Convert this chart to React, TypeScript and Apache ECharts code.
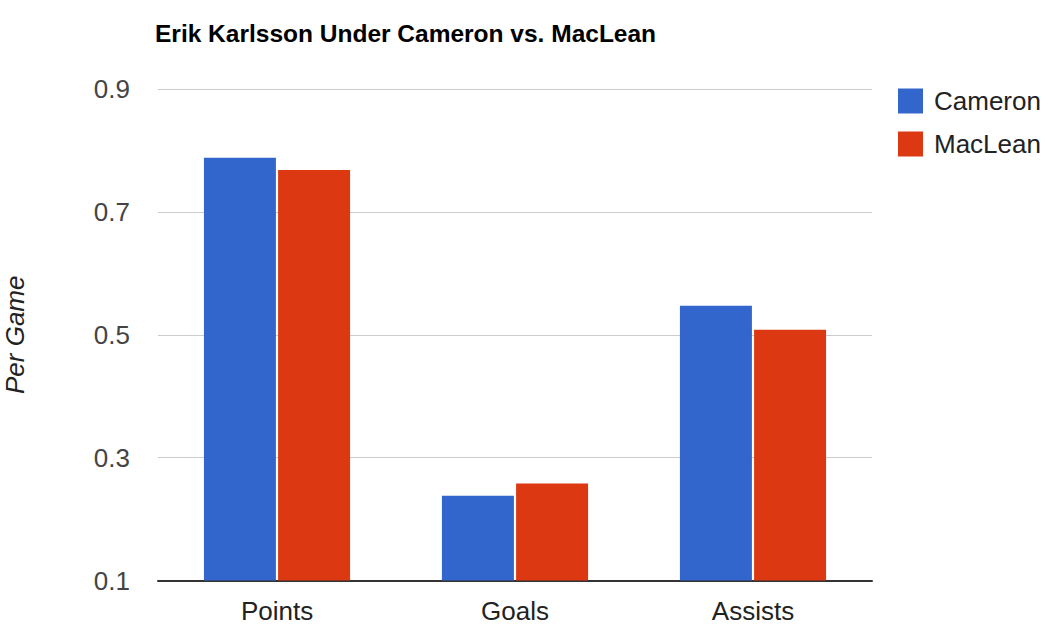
import { useEffect, useRef } from "react";
import * as echarts from "echarts";

const categories = ["Points", "Goals", "Assists"];
const cameron = [0.788, 0.238, 0.547];
const maclean = [0.768, 0.258, 0.508];
const seriesNames = ["Cameron", "MacLean"];
const colors = ["#3366cc", "#dc3912"];

const FONT = "'Liberation Sans', Arial, sans-serif";

export default function App() {
  const chartRef = useRef<HTMLDivElement>(null);

  useEffect(() => {
    document.body.style.margin = "0";
    if (!chartRef.current) return;
    const chart = echarts.init(chartRef.current, undefined, { renderer: "svg" });
    chart.setOption({
      animation: false,
      textStyle: { fontFamily: FONT },
      title: {
        text: "Erik Karlsson Under Cameron vs. MacLean",
        left: 150,
        top: 16,
        textStyle: { fontFamily: FONT, fontSize: 24.5, fontWeight: "bold", color: "#000" },
      },
      legend: {
        orient: "vertical",
        left: 893,
        top: 83,
        itemWidth: 25,
        itemHeight: 25,
        itemGap: 17,
        icon: "rect",
        data: seriesNames,
        textStyle: { fontFamily: FONT, fontSize: 26, color: "#222", padding: [0, 0, 0, 6] },
      },
      grid: { left: 158, right: 184, top: 89, bottom: 51.5, outerBoundsMode: "none" },
      xAxis: {
        type: "category",
        data: categories,
        axisTick: { show: false },
        axisLine: { lineStyle: { color: "#333", width: 2 } },
        axisLabel: { fontFamily: FONT, fontSize: 26, color: "#222", margin: 17 },
      },
      yAxis: {
        type: "value",
        min: 0.1,
        max: 0.9,
        interval: 0.2,
        name: "Per Game",
        nameLocation: "middle",
        nameRotate: 90,
        nameGap: 130,
        nameTextStyle: { fontFamily: FONT, fontSize: 26, fontStyle: "italic", color: "#222" },
        axisLine: { show: false },
        axisTick: { show: false },
        splitLine: { lineStyle: { color: "#cccccc", width: 1 } },
        axisLabel: {
          fontFamily: FONT,
          fontSize: 26,
          color: "#444",
          margin: 28,
          formatter: (v: number) => v.toFixed(1),
        },
      },
      series: [
        { name: seriesNames[0], type: "bar", data: cameron, barWidth: 72, barGap: "3%", itemStyle: { color: colors[0] } },
        { name: seriesNames[1], type: "bar", data: maclean, barWidth: 72, barGap: "3%", itemStyle: { color: colors[1] } },
      ],
    });
    return () => chart.dispose();
  }, []);

  return <div ref={chartRef} style={{ width: 1056, height: 632 }} />;
}
